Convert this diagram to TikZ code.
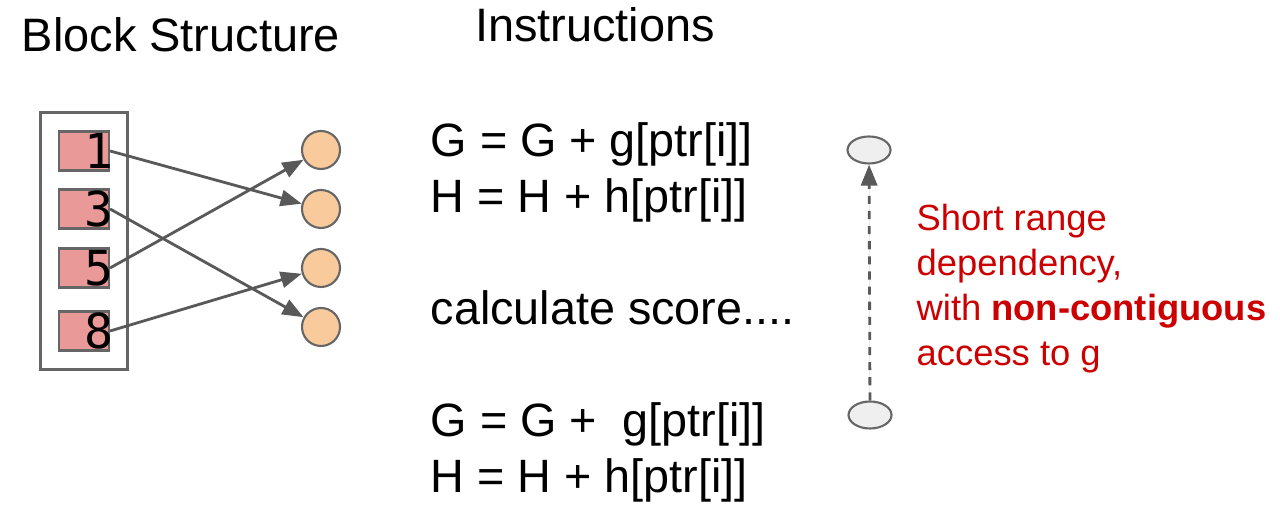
\documentclass[tikz,border=0pt]{standalone}
\usepackage{fontspec}
\setmainfont{Liberation Sans}
\newfontfamily\digitfont{DejaVu Sans Mono}
\usepackage{xcolor}
\usepackage{tikz}
\usetikzlibrary{positioning,arrows.meta,shapes.geometric,fit}

\definecolor{blockpink}{HTML}{EA9999}
\definecolor{slotorange}{HTML}{F9CB9C}
\definecolor{itergray}{HTML}{EFEFEF}
\definecolor{linegray}{HTML}{666666}
\definecolor{arrowgray}{HTML}{595959}
\definecolor{notered}{HTML}{CC0000}

\begin{document}
\begin{tikzpicture}[
  block/.style={rectangle, minimum width=0.5cm, minimum height=0.39cm, inner sep=0pt,
                draw=linegray, line width=0.6pt, fill=blockpink},
  digit/.style={anchor=east, inner sep=0pt, xshift=1.2pt,
                font=\digitfont\fontsize{13.7}{14}\selectfont},
  slot/.style={circle, minimum size=0.38cm, inner sep=0pt,
               draw=linegray, line width=0.6pt, fill=slotorange},
  iter/.style={ellipse, minimum width=0.43cm, minimum height=0.27cm, inner sep=0pt,
               draw=linegray, line width=0.6pt, fill=itergray},
  arrow/.style={-{Triangle[length=6pt,width=4.6pt]}, line width=0.8pt, draw=arrowgray, fill=arrowgray},
  title/.style={anchor=base, inner sep=0pt, font=\fontsize{13.35}{16}\selectfont},
  instr/.style={anchor=base west, inner sep=0pt, font=\fontsize{13.3}{16}\selectfont},
  note/.style={anchor=north west, inner sep=0pt, align=left, text=notered,
               font=\fontsize{10.35}{12.8}\selectfont}
]
\useasboundingbox (0,0) rectangle (12.8,5.15);

% Titles
\node[title] (blocktitle) at (1.81,4.63) {Block Structure};
\node[title] (instrtitle) at (5.95,4.73) {Instructions};

% Block entries
\node[block] (b1) at (0.84,3.64) {};
\node[block] (b3) at (0.84,3.06) {};
\node[block] (b5) at (0.84,2.47) {};
\node[block] (b8) at (0.84,1.84) {};
\node[digit] (d1) at (b1.east) {1};
\node[digit] (d3) at (b3.east) {3};
\node[digit] (d5) at (b5.east) {5};
\node[digit] (d8) at (b8.east) {8};
\node[draw=linegray, line width=0.8pt, inner xsep=0.175cm, inner ysep=0.18cm,
      fit=(b1)(b8)] (blockframe) {};

% Target slots
\node[slot] (c1) at (3.21,3.65) {};
\node[slot] (c2) at (3.21,3.06) {};
\node[slot] (c3) at (3.21,2.47) {};
\node[slot] (c4) at (3.21,1.88) {};

% Arrows
\draw[arrow] (b1.east) -- (c2);
\draw[arrow] (b3.east) -- (c4);
\draw[arrow] (b5.east) -- (c1);
\draw[arrow] (b8.east) -- (c3);

% Instructions
\node[instr] (g1) at (4.30,3.58) {G = G + g[ptr[i]]};
\node[instr] (h1) at (4.30,3.02) {H = H + h[ptr[i]]};
\node[instr] (calc) at (4.30,1.90) {calculate score....};
\node[instr] (g2) at (4.30,0.78) {G = G + \ g[ptr[i]]};
\node[instr] (h2) at (4.30,0.22) {H = H + h[ptr[i]]};

% Dependency
\node[iter] (it1) at (8.69,3.65) {};
\node[iter] (it2) at (8.70,1.00) {};
\draw[arrow, dash pattern=on 2.3pt off 2pt] (it2) -- (it1);

% Note
\node[note] (depnote) at (9.16,3.12)
  {Short range\\dependency,\\with \textbf{non-contiguous}\\access to g};

\end{tikzpicture}
\end{document}
